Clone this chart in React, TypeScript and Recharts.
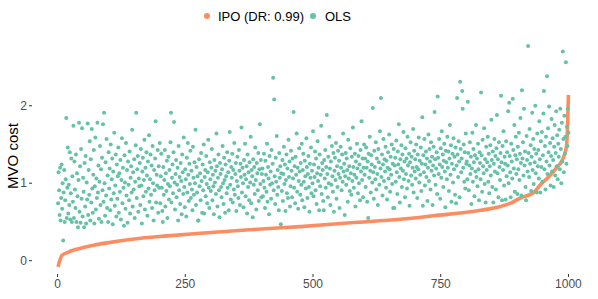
import React from 'react';
import { ComposedChart, Scatter, Line, XAxis, YAxis } from 'recharts';

const xTicks = [0, 250, 500, 750, 1000];
const yTicks = [0, 1, 2];

const ipoIdx = [1, 4, 9, 19, 39, 71, 97, 150, 215, 280, 378, 476, 573, 671, 736, 828, 867, 886, 906, 932, 945, 961, 978, 988, 996, 998, 1000];
const ipoVal = [-0.08, 0.0, 0.07, 0.105, 0.15, 0.2, 0.23, 0.28, 0.32, 0.355, 0.4, 0.44, 0.49, 0.535, 0.58, 0.65, 0.7, 0.74, 0.81, 0.88, 0.98, 1.08, 1.21, 1.3, 1.47, 1.69, 2.14];

const olsVal = [
  0.74, 1.14, 0.91, 0.59, 1.2, 0.52, 0.81, 1.24, 0.67, 1.0, 0.26, 0.88, 1.17, 0.5, 0.78, 1.05, 1.84, 0.55, 0.94, 1.46,
  0.61, 0.98, 0.72, 1.4, 0.53, 0.87, 1.32, 0.5, 1.09, 0.76, 1.74, 0.55, 1.28, 0.92, 0.68, 1.37, 0.5, 1.13, 0.83, 0.43,
  1.04, 1.78, 0.63, 1.22, 0.49, 1.44, 0.8, 1.71, 0.57, 1.07, 0.89, 0.43, 1.26, 0.7, 1.35, 0.48, 1.01, 0.79, 1.77, 0.59,
  1.17, 0.85, 1.54, 0.52, 1.31, 0.75, 1.7, 0.93, 0.62, 1.11, 1.43, 0.48, 0.96, 1.59, 0.66, 1.06, 0.81, 1.78, 0.88, 1.23,
  0.54, 1.02, 1.48, 0.72, 1.18, 0.5, 1.33, 0.91, 1.76, 0.76, 1.91, 1.0, 0.58, 1.27, 0.84, 1.57, 0.68, 1.1, 0.5, 1.4,
  0.93, 1.19, 0.65, 1.5, 0.79, 1.05, 1.32, 0.47, 1.15, 0.87, 1.65, 0.71, 0.97, 1.37, 0.57, 1.24, 0.8, 1.09, 1.46, 0.62,
  1.13, 0.89, 1.3, 0.53, 1.04, 1.58, 0.74, 1.2, 0.94, 0.45, 1.36, 1.01, 0.67, 1.52, 0.84, 1.17, 0.49, 1.28, 0.98, 0.78,
  1.41, 0.61, 1.07, 1.22, 0.88, 1.69, 0.7, 1.14, 0.92, 1.31, 0.55, 1.02, 1.49, 1.91, 0.81, 1.18, 1.35, 0.63, 1.06, 0.96,
  1.26, 0.72, 1.44, 0.97, 0.48, 1.15, 1.33, 0.83, 1.04, 1.56, 0.66, 1.2, 0.89, 1.4, 1.1, 0.58, 1.28, 0.93, 1.62, 0.76,
  1.05, 1.37, 0.85, 1.23, 0.68, 1.48, 1.0, 0.52, 1.17, 0.91, 1.32, 1.8, 0.75, 1.11, 0.97, 1.43, 0.62, 1.22, 0.94, 1.52,
  0.74, 1.09, 1.38, 0.94, 0.64, 0.5, 1.21, 0.85, 1.04, 1.43, 0.7, 1.13, 0.9, 1.29, 0.55, 0.99, 1.34, 0.79, 1.17, 0.96,
  1.53, 1.91, 0.75, 1.07, 1.24, 0.87, 1.4, 1.79, 1.01, 0.66, 1.12, 1.3, 0.82, 0.98, 1.2, 0.52, 1.48, 0.91, 1.08, 0.73,
  1.26, 1.03, 0.6, 1.37, 1.14, 0.86, 1.59, 0.95, 0.69, 1.18, 1.05, 0.57, 1.33, 0.88, 1.52, 1.11, 0.77, 1.25, 0.99, 1.42,
  0.81, 1.16, 0.92, 0.65, 1.47, 1.07, 0.85, 1.27, 1.0, 1.69, 0.72, 1.21, 0.88, 1.09, 0.52, 0.52, 1.31, 0.96, 1.13, 0.78,
  1.39, 1.03, 0.62, 1.24, 0.91, 1.5, 0.61, 1.08, 1.17, 0.83, 1.35, 0.99, 0.74, 1.14, 1.56, 0.94, 0.68, 1.27, 1.05, 0.9,
  1.2, 1.44, 0.78, 1.11, 0.96, 0.6, 1.3, 1.01, 1.16, 0.86, 1.64, 1.22, 0.7, 1.07, 1.37, 0.91, 0.56, 1.26, 1.12, 0.95,
  0.82, 1.18, 1.48, 1.0, 0.73, 1.33, 1.04, 0.62, 1.24, 1.09, 0.87, 1.4, 0.94, 1.14, 0.65, 1.29, 1.66, 0.98, 0.79, 1.21,
  1.07, 1.38, 0.75, 1.17, 0.92, 1.52, 0.85, 1.12, 1.26, 0.64, 1.03, 1.34, 0.96, 0.81, 1.43, 1.16, 0.72, 1.25, 1.08, 1.72,
  0.88, 1.2, 1.0, 0.69, 1.3, 1.11, 1.51, 0.83, 1.05, 1.22, 0.61, 1.37, 0.95, 1.14, 0.78, 1.27, 1.01, 1.6, 0.74, 1.17,
  1.09, 0.56, 1.31, 0.98, 1.21, 0.86, 1.46, 1.04, 0.66, 1.26, 1.13, 0.91, 1.39, 0.77, 1.18, 1.76, 0.99, 1.3, 0.82, 1.12,
  1.19, 0.83, 1.03, 1.38, 0.94, 0.68, 1.29, 1.11, 0.89, 1.51, 0.76, 1.21, 1.06, 0.6, 1.35, 0.98, 1.15, 0.8, 1.43, 1.0,
  1.25, 2.36, 0.91, 2.08, 1.09, 0.73, 1.33, 1.02, 1.61, 0.85, 1.17, 0.95, 0.65, 1.39, 1.07, 1.22, 0.47, 1.13, 0.9, 1.3,
  0.77, 1.12, 1.47, 0.99, 1.24, 0.64, 1.04, 1.37, 0.87, 1.19, 0.81, 1.56, 1.08, 1.28, 0.7, 0.96, 1.42, 1.16, 0.82, 1.32,
  1.06, 1.92, 0.94, 1.22, 0.74, 1.34, 1.11, 1.64, 0.89, 1.2, 0.67, 1.03, 1.45, 1.15, 0.85, 1.26, 0.98, 1.51, 0.78, 1.17,
  1.38, 1.02, 0.69, 1.29, 1.09, 0.93, 1.58, 1.21, 0.81, 1.12, 1.35, 0.95, 0.63, 1.25, 1.07, 1.46, 0.87, 1.16, 1.0, 1.67,
  0.83, 1.24, 1.08, 1.41, 0.91, 1.32, 0.73, 1.13, 1.54, 1.03, 1.2, 0.65, 1.37, 0.96, 1.11, 1.74, 0.86, 1.26, 1.17, 0.77,
  0.65, 1.3, 1.06, 1.43, 0.94, 1.21, 1.88, 1.12, 0.82, 1.34, 1.0, 1.6, 1.19, 0.72, 1.28, 0.98, 1.48, 1.09, 0.89, 1.39,
  0.63, 1.16, 1.33, 1.04, 1.52, 0.8, 1.22, 0.95, 1.42, 1.12, 1.29, 0.68, 1.07, 1.47, 1.2, 0.91, 1.37, 1.02, 1.64, 1.15,
  1.25, 0.59, 1.09, 1.39, 0.98, 1.32, 1.17, 0.76, 1.56, 1.06, 1.22, 0.9, 1.45, 1.13, 0.85, 1.34, 1.03, 1.72, 1.21, 0.94,
  1.11, 1.38, 0.7, 1.28, 1.07, 1.51, 1.19, 0.87, 1.35, 1.0, 1.24, 0.78, 1.43, 1.15, 1.8, 1.04, 1.32, 0.82, 1.2, 1.5,
  1.11, 1.32, 0.95, 1.46, 1.2, 0.76, 1.28, 0.55, 1.38, 1.07, 1.6, 1.16, 0.88, 1.36, 1.24, 1.01, 1.97, 1.14, 0.8, 1.42,
  1.21, 1.05, 1.53, 0.92, 1.32, 1.12, 0.72, 1.44, 1.27, 0.98, 1.67, 1.19, 2.1, 1.08, 1.37, 0.84, 1.24, 1.57, 1.03, 1.31,
  1.15, 1.47, 0.94, 1.29, 0.79, 1.2, 1.4, 1.06, 1.63, 1.18, 0.89, 1.34, 1.11, 1.5, 0.99, 1.25, 0.68, 1.44, 0.68, 1.23,
  1.33, 1.02, 1.55, 1.14, 0.86, 1.41, 1.24, 1.76, 1.08, 0.75, 1.31, 1.19, 1.49, 0.95, 1.37, 1.16, 1.66, 1.05, 1.28, 0.82,
  1.45, 1.12, 1.32, 0.93, 1.6, 1.23, 1.03, 1.38, 0.71, 1.27, 1.53, 1.1, 1.34, 0.98, 1.2, 1.7, 0.88, 1.42, 1.15, 1.31,
  1.06, 1.5, 1.21, 0.81, 1.37, 1.18, 1.59, 1.01, 1.29, 1.11, 1.46, 0.9, 1.25, 1.85, 0.71, 1.36, 1.14, 1.57, 0.97, 1.24,
  1.41, 1.08, 1.32, 0.77, 1.2, 1.63, 1.03, 1.44, 1.28, 0.92, 1.53, 1.16, 1.34, 0.72, 1.23, 1.47, 1.1, 1.92, 1.31, 0.98,
  1.19, 1.4, 0.86, 2.12, 1.33, 1.12, 1.57, 1.24, 0.8, 1.45, 1.07, 1.67, 1.21, 1.37, 0.95, 1.29, 1.51, 1.15, 0.69, 1.42,
  1.27, 1.05, 1.6, 1.2, 1.41, 0.9, 1.32, 1.75, 1.11, 1.49, 0.76, 1.25, 1.38, 1.01, 1.58, 1.18, 1.34, 0.85, 1.46, 0.74,
  1.23, 2.1, 1.37, 1.08, 1.54, 1.28, 0.82, 2.31, 1.44, 1.14, 1.32, 2.19, 1.96, 1.2, 1.5, 1.02, 1.4, 0.93, 1.64, 1.25,
  1.28, 1.05, 2.05, 1.39, 0.91, 1.23, 1.53, 1.12, 1.34, 0.73, 1.19, 1.65, 1.02, 1.44, 1.27, 0.83, 1.36, 1.15, 1.75, 1.08,
  1.32, 0.96, 1.51, 1.18, 0.78, 1.4, 1.26, 1.05, 2.17, 1.36, 0.89, 1.56, 1.22, 1.13, 1.71, 0.99, 1.31, 0.75, 1.47, 1.17,
  1.27, 1.6, 1.02, 1.38, 0.87, 1.22, 1.49, 1.1, 1.82, 1.3, 0.95, 1.41, 0.75, 1.25, 1.57, 1.15, 1.35, 0.92, 1.45, 1.88,
  1.13, 1.31, 0.82, 1.53, 1.21, 1.04, 1.39, 2.13, 1.27, 0.78, 1.48, 1.17, 1.67, 0.97, 1.34, 1.25, 0.79, 1.54, 1.09, 1.4,
  1.23, 1.93, 1.0, 2.04, 1.35, 1.14, 0.82, 1.51, 1.28, 1.06, 2.09, 1.43, 1.19, 1.75, 0.89, 1.36, 1.6, 1.12, 1.31, 0.86,
  1.47, 1.18, 1.65, 1.04, 1.38, 1.84, 1.26, 0.84, 2.2, 1.32, 1.53, 1.1, 1.96, 1.23, 1.41, 0.95, 0.78, 1.61, 1.3, 1.15,
  2.77, 1.39, 1.08, 1.7, 1.25, 1.49, 0.9, 1.34, 1.91, 1.17, 1.57, 0.99, 1.44, 1.27, 2.0, 1.13, 1.38, 0.88, 1.64, 1.22,
  1.43, 1.06, 1.8, 1.31, 0.88, 1.54, 1.21, 1.66, 1.02, 1.36, 1.9, 2.19, 1.18, 1.48, 0.92, 1.6, 1.28, 2.38, 1.12, 1.71,
  1.4, 1.99, 1.23, 1.52, 0.97, 1.35, 1.83, 1.15, 1.58, 1.3, 0.95, 1.47, 1.75, 1.1, 1.39, 1.93, 1.22, 1.62, 1.05, 1.51,
  1.34, 1.69, 1.18, 1.96, 1.44, 1.0, 1.78, 1.28, 2.7, 1.57, 1.14, 1.87, 1.38, 1.6, 2.56, 1.25, 1.73, 1.48, 1.96, 1.65,
];

const ipoData = ipoIdx.map((x, i) => ({ x, y: ipoVal[i] }));
const olsData = olsVal.map((y, i) => ({ x: i + 1, y }));

const FONT = '"Liberation Sans", Arial, Helvetica, sans-serif';
const ORANGE = '#FC8D62';
const GREEN = '#66C2A5';

const Dot = (props: any) => {
  const { cx, cy } = props;
  if (cx == null || cy == null) return null;
  return <circle cx={cx} cy={cy} r={2} fill={GREEN} />;
};

const YLabel = () => (
  <text
    x={12}
    y={156}
    transform="rotate(-90 12 156)"
    textAnchor="middle"
    dominantBaseline="central"
    fontSize={15}
    fontFamily={FONT}
    fill="#000"
  >
    MVO cost
  </text>
);

export default function App() {
  const dotStyle = (c: string, left: number): React.CSSProperties => ({
    position: 'absolute',
    left: left - 3.4,
    top: 16 - 3.4,
    width: 6.8,
    height: 6.8,
    borderRadius: '50%',
    background: c,
  });
  const textStyle = (left: number): React.CSSProperties => ({
    position: 'absolute',
    left,
    top: 16,
    transform: 'translateY(-50%)',
    fontSize: 13,
    fontFamily: FONT,
    color: '#000',
    lineHeight: '13px',
    whiteSpace: 'nowrap',
  });
  return (
    <div style={{ position: 'absolute', left: 0, top: 0, width: 598, height: 299, background: '#fff' }}>
      <ComposedChart
        width={598}
        height={299}
        margin={{ top: 36, right: 4, bottom: 0, left: 0 }}
      >
        <XAxis
          type="number"
          dataKey="x"
          domain={[-50, 1050]}
          ticks={xTicks}
          allowDataOverflow
          axisLine={false}
          tickLine={{ stroke: '#333333' }}
          tickSize={3}
          height={25}
          tick={{ fill: '#4D4D4D', fontSize: 12, fontFamily: FONT }}
        />
        <YAxis
          type="number"
          dataKey="y"
          domain={[-0.172, 2.9]}
          ticks={yTicks}
          allowDataOverflow
          axisLine={false}
          tickLine={{ stroke: '#333333' }}
          tickSize={3}
          width={32}
          tick={{ fill: '#4D4D4D', fontSize: 12, fontFamily: FONT }}
          label={<YLabel />}
        />
        <Scatter
          data={olsData}
          dataKey="y"
          shape={<Dot />}
          isAnimationActive={false}
        />
        <Line
          data={ipoData}
          dataKey="y"
          type="monotone"
          stroke={ORANGE}
          strokeWidth={3.6}
          dot={false}
          activeDot={false}
          isAnimationActive={false}
        />
      </ComposedChart>
      <div style={dotStyle(ORANGE, 207)} />
      <div style={textStyle(218)}>IPO (DR: 0.99)</div>
      <div style={dotStyle(GREEN, 313)} />
      <div style={textStyle(325)}>OLS</div>
    </div>
  );
}
